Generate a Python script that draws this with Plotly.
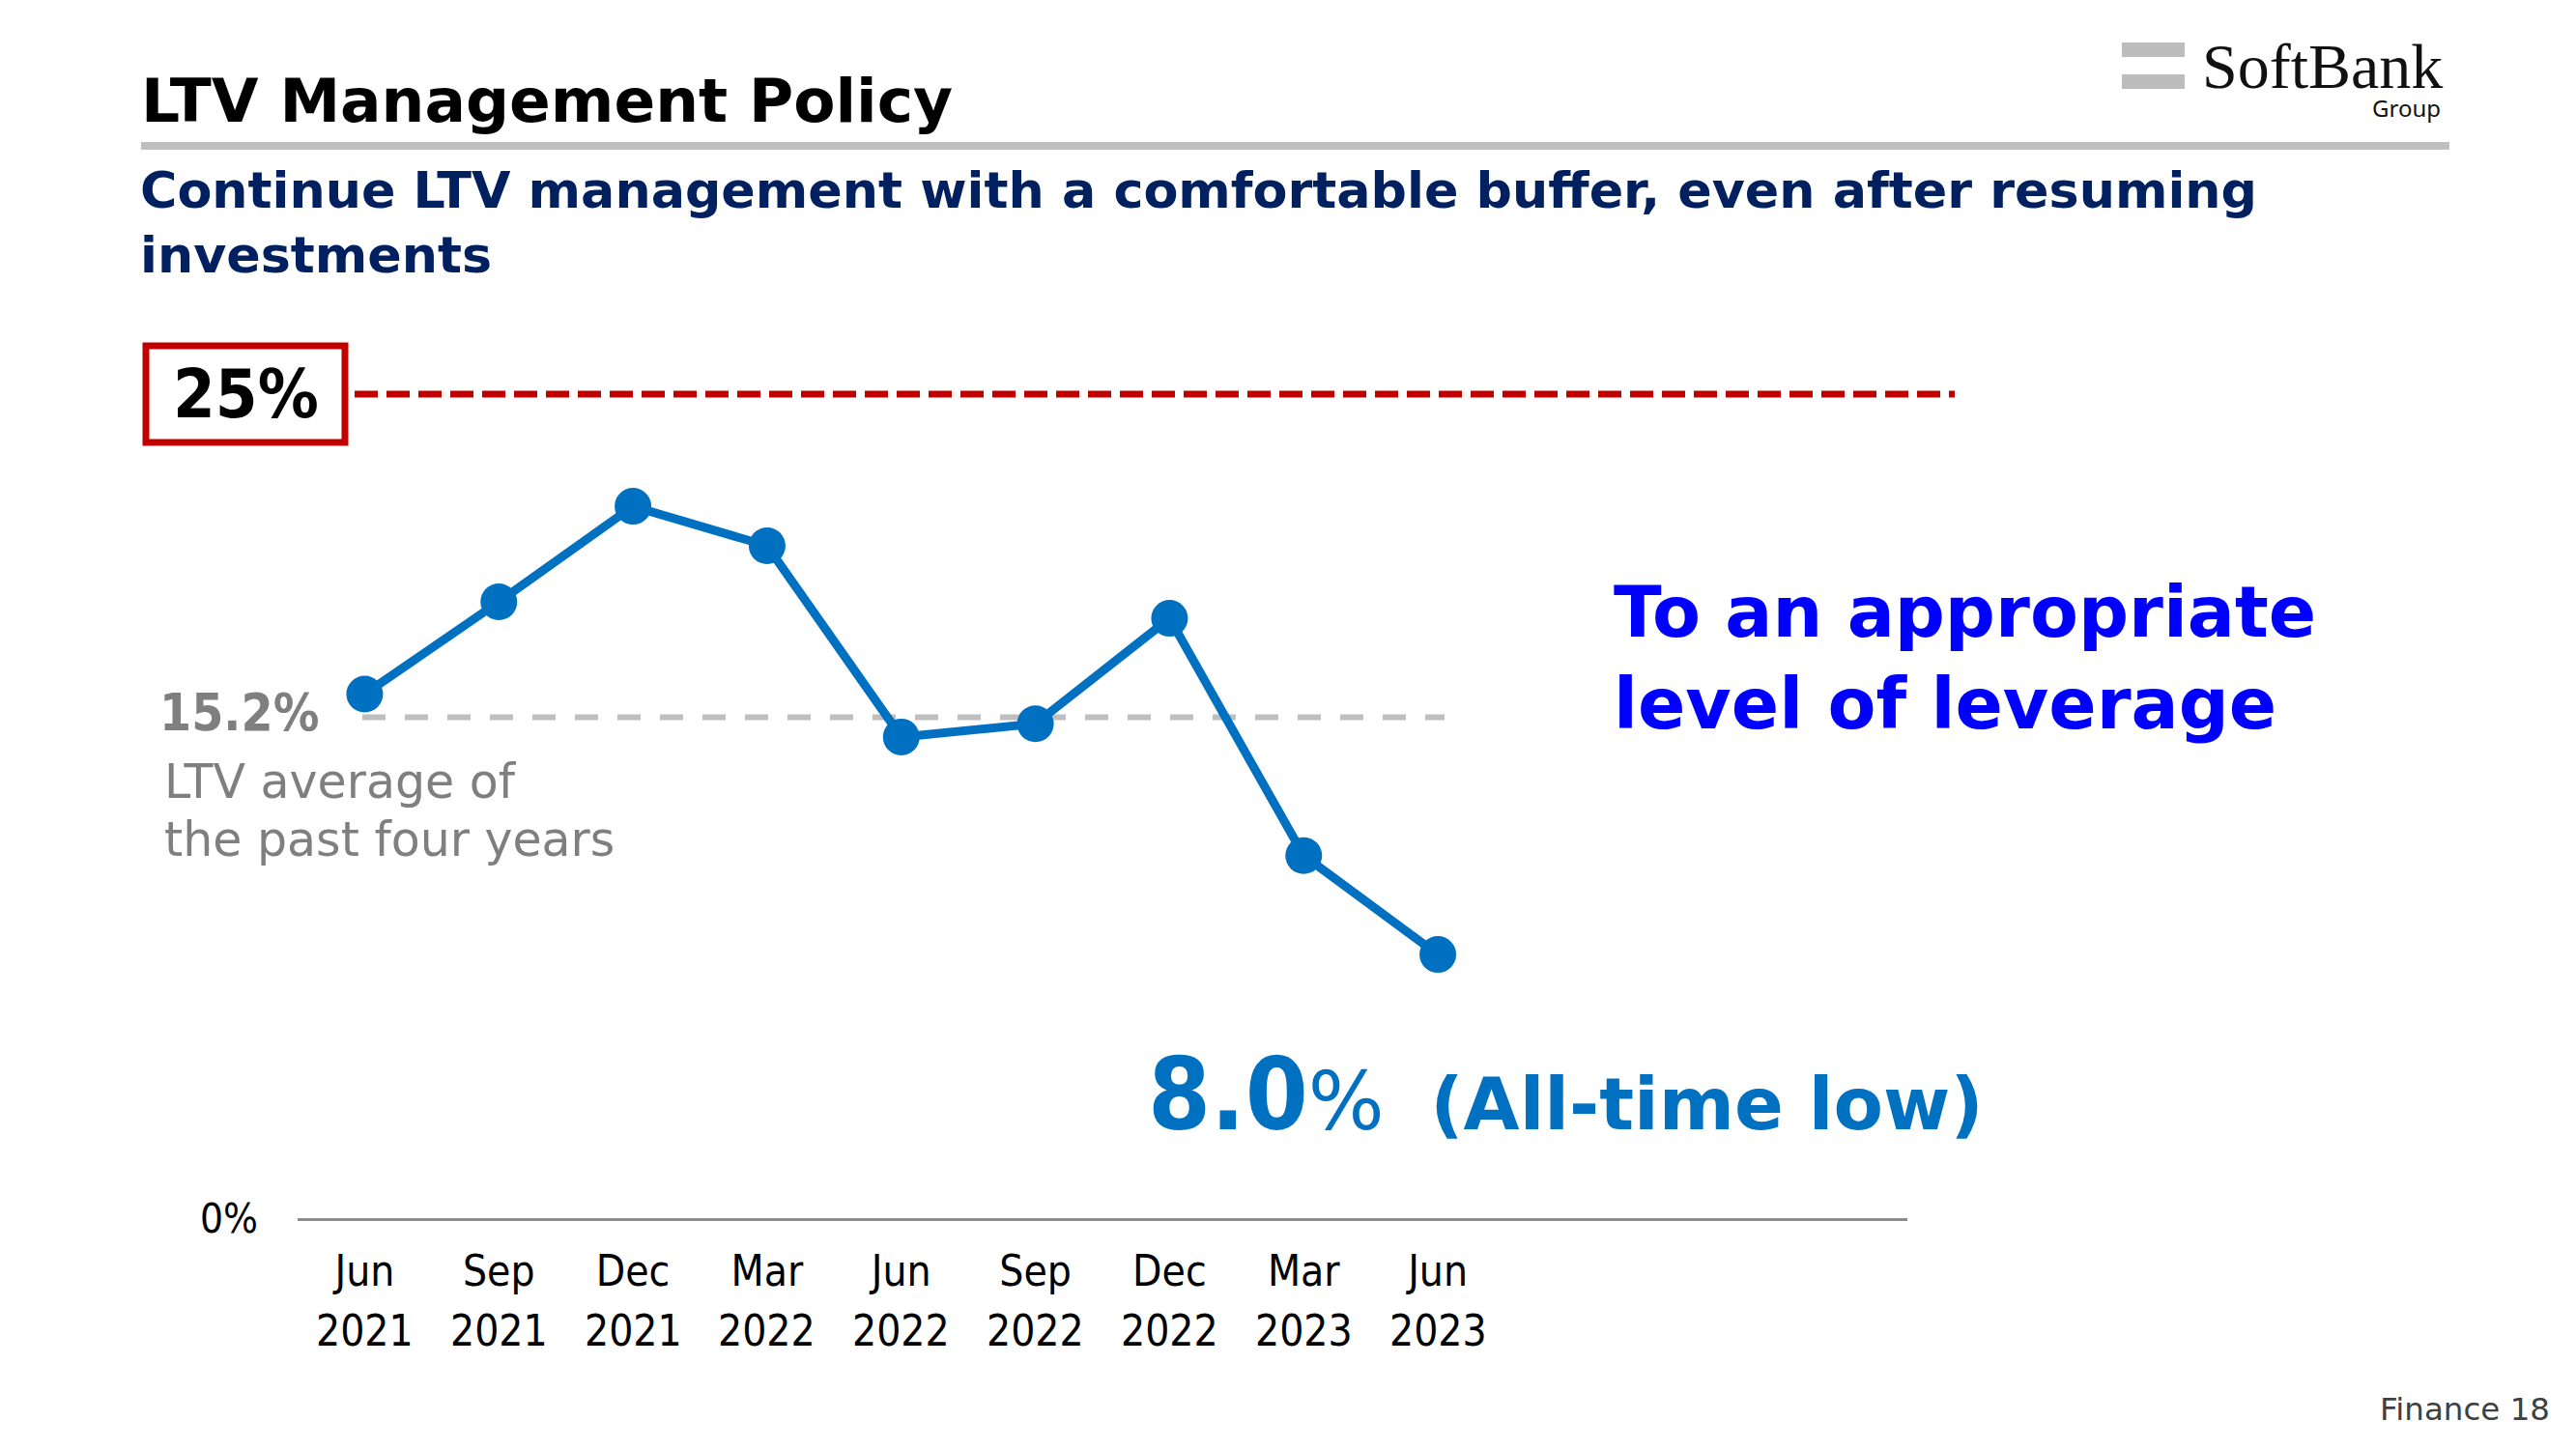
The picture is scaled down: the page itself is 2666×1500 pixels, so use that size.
import plotly.graph_objects as go

# ---------------- data ----------------
MONTHS = ["Jun", "Sep", "Dec", "Mar", "Jun", "Sep", "Dec", "Mar", "Jun"]
YEARS = ["2021", "2021", "2021", "2022", "2022", "2022", "2022", "2023", "2023"]
LTV = [15.9, 18.7, 21.6, 20.4, 14.6, 15.0, 18.2, 11.0, 8.0]
AVG_LTV = 15.2
LTV_CAP = 25
LATEST = 8.0

# ---------------- layout helpers ----------------
W, H = 2666, 1500
L, R, T, B = 308, 692, 374, 239
PW, PH = W - L - R, H - T - B


def PX(x):
    return (x - L) / PW


def PY(y):
    return (H - B - y) / PH


COND = "DejaVu Sans Condensed, DejaVu Sans, sans-serif"
WIDE = "DejaVu Sans, Verdana, sans-serif"
BLUE = "#0070C0"

idx = list(range(len(LTV)))

fig = go.Figure()
fig.add_trace(go.Scatter(
    x=idx, y=LTV, mode="lines+markers",
    line=dict(color=BLUE, width=9),
    marker=dict(color=BLUE, size=38),
    cliponaxis=False, hoverinfo="skip", showlegend=False,
))

shapes = [
    # header rule
    dict(type="rect", xref="paper", yref="paper", x0=PX(146), x1=PX(2535), y0=PY(155), y1=PY(147),
         fillcolor="#BFBFBF", line=dict(width=0)),
    # logo bars
    dict(type="rect", xref="paper", yref="paper", x0=PX(2196), x1=PX(2261), y0=PY(59), y1=PY(44),
         fillcolor="#BCBCBC", line=dict(width=0)),
    dict(type="rect", xref="paper", yref="paper", x0=PX(2196), x1=PX(2261), y0=PY(92), y1=PY(77),
         fillcolor="#BCBCBC", line=dict(width=0)),
    # 25% box
    dict(type="rect", xref="paper", yref="paper", x0=PX(151), x1=PX(357), y0=PY(458), y1=PY(358),
         fillcolor="white", line=dict(color="#C00000", width=7)),
    # 25% dashed line
    dict(type="line", xref="paper", yref="y", x0=PX(367), x1=PX(2023), y0=LTV_CAP, y1=LTV_CAP,
         line=dict(color="#C00000", width=7, dash="24px,9px"), layer="below"),
    # average dashed line
    dict(type="line", xref="paper", yref="y", x0=PX(375), x1=PX(1495), y0=AVG_LTV, y1=AVG_LTV,
         line=dict(color="#BFBFBF", width=6, dash="24px,20px"), layer="below"),
]

ann = []


def add(text, x, y, size, color, xanchor="left", yanchor="middle", xref="paper", yref="paper",
        align="left", family=WIDE):
    ann.append(dict(text=text, x=x, y=y, xref=xref, yref=yref, xanchor=xanchor, yanchor=yanchor,
                    showarrow=False, align=align, font=dict(family=family, size=size, color=color)))


add("<b>LTV Management Policy</b>", PX(144), PY(104), 63, "#000000")
add("<b>Continue LTV management with a comfortable buffer, even after resuming</b>", PX(143), PY(196), 52.3, "#002060")
add("<b>investments</b>", PX(143), PY(263), 52.3, "#002060")
add("SoftBank", PX(2277), PY(68), 66, "#111111", family="Liberation Serif, serif")
add("Group", PX(2528), PY(111), 24, "#111111", xanchor="right", family="Noto Sans, sans-serif")
add(f"<b>{LTV_CAP}%</b>", PX(254), LTV_CAP, 70, "#000000", xanchor="center", yref="y", family=COND)
add(f"<b>{AVG_LTV}%</b>", PX(163), PY(737), 53, "#7F7F7F", family=COND)
add("LTV average of", PX(168), PY(809), 49, "#7F7F7F")
add("the past four years", PX(168), PY(869), 49, "#7F7F7F")
add("<b>To an appropriate<br>level of leverage</b>", PX(1668), PY(681), 72.8, "#0000FF")
add(f"<b>{LATEST:.1f}</b>"
    f"<span style=\"font-family:DejaVu Sans;font-size:83px\">%</span>"
    f"<span style=\"font-family:DejaVu Sans;font-size:75px\">  <b>(All-time low)</b></span>",
    PX(1186), PY(1133), 104, BLUE, family=COND)
add("Finance 18", PX(2641), PY(1459), 32.5, "#404040", xanchor="right")

# year row under the month tick labels
for i, yr in zip(idx, YEARS):
    add(yr, i, PY(1377), 44, "#000000", xanchor="center", xref="x", family=COND)

fig.update_layout(
    width=W, height=H,
    margin=dict(l=L, r=R, t=T, b=B),
    paper_bgcolor="white", plot_bgcolor="white",
    shapes=shapes, annotations=ann,
    xaxis=dict(range=[-0.5, 11.5], tickvals=idx, ticktext=MONTHS, showgrid=False, zeroline=False,
               showline=True, linecolor="#8C8C8C", linewidth=3, ticks="", ticklabelstandoff=14,
               tickfont=dict(family=COND, size=44, color="#000000"), fixedrange=True),
    yaxis=dict(range=[0, 26], tickvals=[0], ticktext=["0%"], showgrid=False, zeroline=False,
               showline=False, ticks="", ticklabelstandoff=40,
               tickfont=dict(family=COND, size=42, color="#000000"), fixedrange=True),
    showlegend=False,
)

fig.write_html("out.html", config={"displayModeBar": False})
